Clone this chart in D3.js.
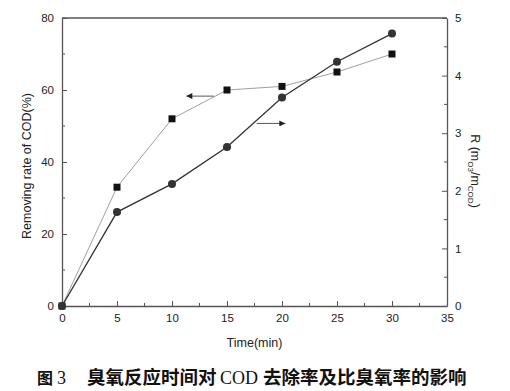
<!DOCTYPE html>
<html><head><meta charset="utf-8">
<script src="https://cdn.jsdelivr.net/npm/d3@7"></script>
<style>body{margin:0;background:#fff}svg{display:block}</style>
</head><body>
<svg id="c" width="510" height="391"></svg>
<script>
const time = [0, 5, 10, 15, 20, 25, 30];
const removal = [0, 33, 52, 60, 61, 65, 70];
const ratio = [0, 1.63, 2.12, 2.76, 3.62, 4.24, 4.73];
const xTicks = [0, 5, 10, 15, 20, 25, 30, 35];
const yLeftTicks = [0, 20, 40, 60, 80];
const yRightTicks = [0, 1, 2, 3, 4, 5];

const svg = d3.select("#c");
const L = 62, R = 447, T = 18, B = 306;
const x = d3.scaleLinear().domain([0, 35]).range([L, R]);
const yl = d3.scaleLinear().domain([0, 80]).range([B, T]);
const yr = d3.scaleLinear().domain([0, 5]).range([B, T]);
const axisCol = "#555";
const font = "Arial, 'Liberation Sans', sans-serif";

svg.append("line").attr("x1", L).attr("x2", R).attr("y1", T).attr("y2", T).attr("stroke", axisCol).attr("stroke-width", 1.3);

function styleAxis(g) {
  g.select(".domain").attr("stroke", axisCol).attr("stroke-width", 1.3);
  g.selectAll(".tick line").attr("stroke", axisCol).attr("stroke-width", 1);
  g.selectAll("text").attr("font-family", font).attr("font-size", 11.5).attr("fill", "#222");
}
function minor(g, scale, vals, orient, len) {
  vals.forEach(v => {
    const p = scale(v);
    if (orient === "bottom") g.append("line").attr("x1", p).attr("x2", p).attr("y1", B).attr("y2", B - len);
    if (orient === "left") g.append("line").attr("y1", p).attr("y2", p).attr("x1", L).attr("x2", L + len);
    if (orient === "right") g.append("line").attr("y1", p).attr("y2", p).attr("x1", R).attr("x2", R - len);
  });
  g.selectAll("line").attr("stroke", axisCol).attr("stroke-width", 1);
}
const gx = svg.append("g").attr("transform", `translate(0,${B})`)
  .call(d3.axisBottom(x).tickValues(xTicks).tickFormat(d3.format("d")).tickSize(-5).tickPadding(8).tickSizeOuter(0));
styleAxis(gx);
const gyl = svg.append("g").attr("transform", `translate(${L},0)`)
  .call(d3.axisLeft(yl).tickValues(yLeftTicks).tickFormat(d3.format("d")).tickSize(-5).tickPadding(8).tickSizeOuter(0));
styleAxis(gyl);
const gyr = svg.append("g").attr("transform", `translate(${R},0)`)
  .call(d3.axisRight(yr).tickValues(yRightTicks).tickFormat(d3.format("d")).tickSize(-5).tickPadding(8).tickSizeOuter(0));
styleAxis(gyr);
minor(svg.append("g"), x, d3.range(2.5, 35, 5), "bottom", 3);
minor(svg.append("g"), yl, [10, 30, 50, 70], "left", 3);
minor(svg.append("g"), yr, [0.5, 1.5, 2.5, 3.5, 4.5], "right", 3);

const sq = d3.line().x((d, i) => x(time[i])).y(d => yl(d));
svg.append("path").datum(removal).attr("d", sq).attr("fill", "none").attr("stroke", "#a0a0a0").attr("stroke-width", 1);
const ci = d3.line().x((d, i) => x(time[i])).y(d => yr(d));
svg.append("path").datum(ratio).attr("d", ci).attr("fill", "none").attr("stroke", "#333").attr("stroke-width", 1.3);

svg.selectAll("rect.m").data(removal).enter().append("rect")
  .attr("x", (d, i) => x(time[i]) - 3.5).attr("y", d => yl(d) - 3.5)
  .attr("width", 7).attr("height", 7).attr("fill", "#111");
svg.selectAll("circle.m").data(ratio).enter().append("circle")
  .attr("cx", (d, i) => x(time[i])).attr("cy", d => yr(d)).attr("r", 4).attr("fill", "#333");

const defs = svg.append("defs");
defs.append("marker").attr("id", "ah").attr("viewBox", "0 0 10 10").attr("refX", 10).attr("refY", 5)
  .attr("markerWidth", 10).attr("markerHeight", 6).attr("markerUnits", "userSpaceOnUse").attr("orient", "auto")
  .append("path").attr("d", "M0,0L10,5L0,10Z").attr("fill", "#222");
svg.append("line").attr("x1", x(13.8)).attr("x2", x(11.3)).attr("y1", yl(58.3)).attr("y2", yl(58.3))
  .attr("stroke", "#555").attr("stroke-width", 1).attr("marker-end", "url(#ah)");
svg.append("line").attr("x1", x(17.7)).attr("x2", x(20.3)).attr("y1", yr(3.17)).attr("y2", yr(3.17))
  .attr("stroke", "#555").attr("stroke-width", 1).attr("marker-end", "url(#ah)");

svg.append("text").attr("x", x(17.5)).attr("y", 347).attr("text-anchor", "middle")
  .attr("font-family", font).attr("font-size", 12.5).attr("fill", "#222").text("Time(min)");
svg.append("text").attr("transform", `translate(31,${(T + B) / 2 + 4}) rotate(-90)`).attr("text-anchor", "middle")
  .attr("font-family", font).attr("font-size", 12.5).attr("fill", "#222").text("Removing rate of COD(%)");
const rt = svg.append("text").attr("transform", `translate(471,171) rotate(90)`).attr("text-anchor", "middle")
  .attr("font-family", font).attr("font-size", 12.5).attr("fill", "#222");
rt.append("tspan").text("R (m");
rt.append("tspan").attr("dy", 3).attr("font-size", 8).text("O3");
rt.append("tspan").attr("dy", -3).text("/m");
rt.append("tspan").attr("dy", 3).attr("font-size", 8).text("COD");
rt.append("tspan").attr("dy", -3).text(")");

const capY = 384;
const cjk = "'Noto Sans CJK SC', sans-serif", serif = "'Liberation Serif', 'Times New Roman', serif";
function cap(xp, txt, fam, bold, size) {
  svg.append("text").attr("x", xp).attr("y", capY).attr("font-family", fam).attr("font-size", size)
    .attr("font-weight", bold ? "bold" : "normal").attr("fill", "#111").text(txt);
}
cap(37, "图", cjk, true, 16);
cap(57, "3", serif, false, 18);
cap(87, "臭氧反应时间对", cjk, true, 18.5);
cap(220, "COD", serif, false, 18);
cap(263, "去除率及比臭氧率的影响", cjk, true, 18.5);
</script>
</body></html>
